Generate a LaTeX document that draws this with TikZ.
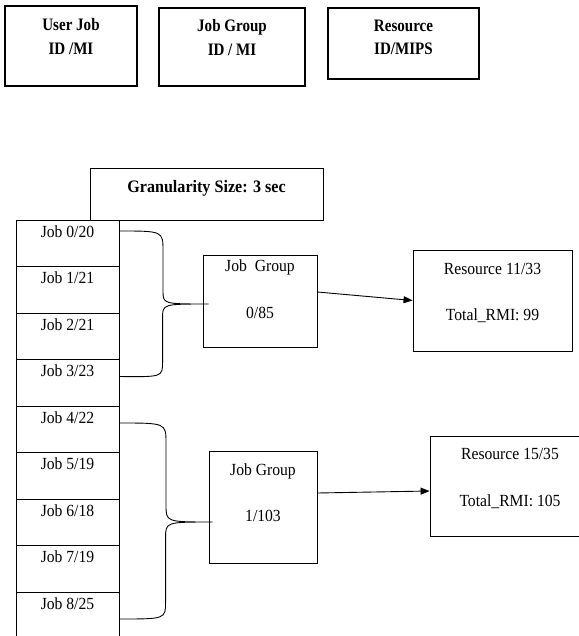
\documentclass[tikz,border=0pt]{standalone}
\usepackage{fontspec}
\setmainfont{Liberation Serif}
\newfontfamily\bodyfont{Liberation Serif}[FakeStretch=0.92]
\newfontfamily\hdrfont{Liberation Serif}[FakeStretch=0.86]
\usetikzlibrary{arrows.meta,positioning}

\begin{document}
\begin{tikzpicture}[
  x=1pt, y=-1pt,
  every node/.style={inner sep=0pt, font=\bodyfont\fontsize{17}{46.5}\selectfont},
  box/.style={draw, line width=0.9pt},
  hdr/.style={box, line width=1.1pt},
  hdrtext/.style={align=center, font=\hdrfont\fontsize{17.5}{23.5}\selectfont\bfseries},
  boxtext/.style={align=center},
  jobrow/.style={draw, line width=0.9pt, outer sep=0pt, minimum width=103pt,
    text height=17pt, text depth=29.5pt},
  brace/.style={line width=0.9pt},
  arr/.style={-{Triangle[length=9pt, width=7pt]}, line width=0.9pt}
]
  \useasboundingbox (0,0) rectangle (578,636);

  % legend
  \node (ujob) [hdr, minimum width=132pt, minimum height=80pt] at (71,46) {};
  \node (jgrp) [hdr, minimum width=146pt, minimum height=78pt] at (232,47) {};
  \node (rsrc) [hdr, minimum width=151pt, minimum height=71pt] at (403.5,43.5) {};
  \node (ujob-t) [hdrtext, below=12.9pt of ujob.north] {User Job\\ID /MI};
  \node (jgrp-t) [hdrtext, below=11.9pt of jgrp.north] {Job Group\\ID / MI};
  \node (rsrc-t) [hdrtext, below=11.9pt of rsrc.north] {Resource\\ID/MIPS};

  % granularity and job list
  \node (gran) [box, minimum width=233pt, text height=25pt, text depth=27pt,
    font=\bodyfont\fontsize{17.5}{18}\selectfont\bfseries] at (206.5,194) {Granularity Size: 3 sec};
  \node (j0) [jobrow] at (67.5,243.25) {Job 0/20};
  \foreach \i/\mi [remember=\i as \last (initially 0)] in
      {1/21, 2/21, 3/23, 4/22, 5/19, 6/18, 7/19, 8/25}
    \node (j\i) [jobrow, below=0pt of j\last] {Job \i/\mi};

  % groups and resources
  \node (g0) [box, minimum width=114pt, minimum height=92pt] at (260,301) {};
  \node (g0-t) [boxtext, below=5.4pt of g0.north] {Job\ \ Group\\0/85};
  \node (g1) [box, minimum width=108pt, minimum height=112pt] at (263,507) {};
  \node (g1-t) [boxtext, below=12.7pt of g1.north] {Job Group\\1/103};
  \node (r0) [box, minimum width=159pt, minimum height=101pt] at (492.5,300.5) {};
  \node (r0-t) [boxtext, below=13pt of r0.north] {Resource 11/33\\Total\_RMI: 99};
  \node (r1) [box, minimum width=160pt, minimum height=100pt] at (510,486) {};
  \node (r1-t) [boxtext, below=12.7pt of r1.north] {Resource 15/35\\Total\_RMI: 105};

  % braces
  \draw[brace] ([yshift=6pt]j0.base east) .. controls +(44,0) .. ++(44,20) -- ++(0,40)
    .. controls +(0,13) .. ([shift={(6,3)}]g0.west)
    .. controls +(-46,0) .. ++(-46,14) -- ++(0,44)
    .. controls +(0,15) .. (j3.base east);
  \draw[brace] (j4.base east) .. controls +(47,0) .. ++(47,20) -- ++(0,62)
    .. controls +(0,17) .. ([shift={(4,15)}]g1.west)
    .. controls +(-47,0) .. ++(-47,16) -- ++(0,64)
    .. controls +(0,17) .. ([yshift=-10pt]j8.base east);

  \draw[arr] ([yshift=9pt]g0.east) -- (r0.west);
  \draw[arr] ([yshift=14pt]g1.east) -- ([yshift=-5pt]r1.west);
\end{tikzpicture}
\end{document}
